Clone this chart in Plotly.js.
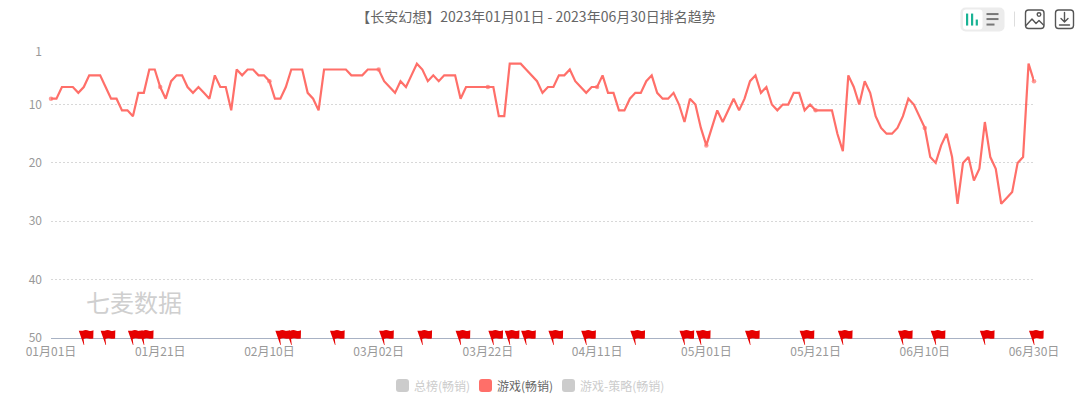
<!DOCTYPE html>
<html>
<head>
<meta charset="utf-8">
<script src="https://cdn.plot.ly/plotly-3.0.1.min.js"></script>
<style>html,body{margin:0;padding:0;background:#fff}#chart{width:1080px;height:406px}</style>
</head>
<body>
<div id="chart"></div>
<script>
const chartTitle = "【长安幻想】2023年01月01日 - 2023年06月30日排名趋势";
const seriesNames = ["总榜(畅销)", "游戏(畅销)", "游戏-策略(畅销)"];
const yTicks = [1, 10, 20, 30, 40, 50];
const tickDayIndex = [0, 20, 40, 60, 80, 100, 120, 140, 160, 180];
const tickLabels = ["01月01日", "01月21日", "02月10日", "03月02日", "03月22日", "04月11日", "05月01日", "05月21日", "06月10日", "06月30日"];
const flagDayIndex = [6, 10, 15, 17, 42, 44, 52, 61, 68, 75, 81, 84, 87, 92, 98, 107, 116, 119, 128, 138, 145, 156, 162, 171, 180];
const gameRank = [
  9, 9, 7, 7, 7, 8, 7, 5, 5, 5,
  7, 9, 9, 11, 11, 12, 8, 8, 4, 4,
  7, 9, 6, 5, 5, 7, 8, 7, 8, 9,
  5, 7, 7, 11, 4, 5, 4, 4, 5, 5,
  6, 9, 9, 7, 4, 4, 4, 8, 9, 11,
  4, 4, 4, 4, 4, 5, 5, 5, 4, 4,
  4, 6, 7, 8, 6, 7, 5, 3, 4, 6,
  5, 6, 5, 5, 5, 9, 7, 7, 7, 7,
  7, 7, 12, 12, 3, 3, 3, 4, 5, 6,
  8, 7, 7, 5, 5, 4, 6, 7, 8, 7,
  7, 5, 8, 8, 11, 11, 9, 8, 8, 6,
  5, 8, 9, 9, 8, 10, 13, 9, 10, 14,
  17, 14, 11, 13, 11, 9, 11, 9, 6, 5,
  8, 7, 10, 11, 10, 10, 8, 8, 11, 10,
  11, 11, 11, 11, 15, 18, 5, 7, 10, 6,
  8, 12, 14, 15, 15, 14, 12, 9, 10, 12,
  14, 19, 20, 17, 15, 19, 27, 20, 19, 23,
  21, 13, 19, 21, 27, 26, 25, 20, 19, 3,
  6
];

const W = 1080, H = 406, L = 51, R = 46, T = 51.5, B = 68;
const plotW = W - L - R, plotH = H - T - B;
const fx = v => (v - L) / plotW;
const fy = v => 1 - (v - T) / plotH;
const START = Date.UTC(2023, 0, 1);
const dateOf = i => new Date(START + i * 86400000).toISOString().slice(0, 10);
const days = gameRank.map((_, i) => dateOf(i));

const RED = "#ff6f69", GREY = "#cccccc";

const flagPath = "M0,0 L-5,14.3 L-1,14.3 Q2,15.5 5,14.3 Q7.5,13.6 9.7,14.8 L9.5,6.5 Q7,5.8 4.5,6.5 Q2,7.2 -0.2,6 L0.5,0 Z";
const flagShapes = flagDayIndex.map(i => ({
  type: "path", xref: "paper", yref: "paper",
  xsizemode: "pixel", ysizemode: "pixel",
  xanchor: i / 180, yanchor: fy(345),
  path: flagPath, fillcolor: "#e60000", line: {width: 0}, layer: "above"
}));

const swatch = "M3,0 H10 Q13,0 13,3 V10 Q13,13 10,13 H3 Q0,13 0,10 V3 Q0,0 3,0 Z";
const legendItems = [
  {sx: 396, tx: 414, color: GREY, tc: "#cccccc", name: seriesNames[0]},
  {sx: 479, tx: 497, color: RED, tc: "#666666", name: seriesNames[1]},
  {sx: 562, tx: 580, color: GREY, tc: "#cccccc", name: seriesNames[2]}
];
const legendShapes = legendItems.map(o => ({
  type: "path", xref: "paper", yref: "paper",
  xsizemode: "pixel", ysizemode: "pixel",
  xanchor: fx(o.sx), yanchor: fy(392),
  path: swatch, fillcolor: o.color, line: {width: 0}
}));
const FONT = '"Noto Sans CJK SC", "Noto Sans", sans-serif';
const legendText = legendItems.map(o => ({
  xref: "paper", yref: "paper", x: fx(o.tx), y: fy(385.5),
  xanchor: "left", yanchor: "middle", showarrow: false,
  text: o.name, font: {family: FONT, size: 12, color: o.tc}, borderpad: 0, xshift: -1
}));

const toolbarSvg = `<svg xmlns="http://www.w3.org/2000/svg" width="125" height="36" viewBox="955 0 125 36">
<rect x="960.5" y="7" width="44" height="24" rx="5" fill="#ececec"/>
<rect x="963" y="9" width="19.5" height="20" rx="3" fill="#ffffff"/>
<g fill="#19b394"><rect x="966" y="13" width="2.2" height="12"/><rect x="971" y="13" width="2.2" height="12"/><rect x="975.7" y="19" width="2.2" height="6"/></g>
<g fill="#777777"><rect x="986.5" y="12.5" width="12" height="2"/><rect x="986.5" y="17.5" width="12" height="2"/><rect x="986.5" y="23" width="8" height="2"/></g>
<rect x="1014" y="11" width="1" height="15" fill="#dddddd"/>
<g fill="none" stroke="#555555" stroke-width="1.4" stroke-linejoin="round" stroke-linecap="round">
<rect x="1025.5" y="9.5" width="18.5" height="18.5" rx="3"/>
<path d="M1026,25 L1032,18.5 L1036,23 L1039,20 L1043.5,24.5"/>
<circle cx="1039" cy="14" r="1.8"/>
<rect x="1055.5" y="9.5" width="18" height="18.5" rx="3"/>
<path d="M1064.5,12 V21 M1061,18 L1064.5,21.5 L1068,18 M1059.5,24.5 H1069.5"/>
</g></svg>`;

const traces = [
  {
    type: "scatter", mode: "lines+markers", name: seriesNames[1],
    x: days, y: gameRank, cliponaxis: false,
    line: {color: RED, width: 2.2},
    marker: {color: RED, size: gameRank.map((_, i) => tickDayIndex.includes(i) ? 4.5 : 0.01), line: {width: 0}},
    showlegend: false, hovertemplate: "%{x}<br>%{y}<extra>" + seriesNames[1] + "</extra>"
  }
];

const layout = {
  width: W, height: H, autosize: false,
  margin: {l: L, r: R, t: T, b: B, pad: 0},
  paper_bgcolor: "#ffffff", plot_bgcolor: "#ffffff",
  font: {family: FONT, size: 12, color: "#999999"},
  showlegend: false,
  title: {
    text: chartTitle, xref: "paper", yref: "container", x: fx(536), xanchor: "center",
    y: 1 - 17 / H, yanchor: "middle",
    font: {family: FONT, size: 14, color: "#666666"}
  },
  xaxis: {
    type: "date", range: [dateOf(0), dateOf(180)],
    tickmode: "array", tickvals: tickDayIndex.map(dateOf), ticktext: tickLabels,
    tickangle: 0, ticks: "", showgrid: false, zeroline: false,
    showline: true, linecolor: "#a8b2c4", linewidth: 1, ticklabelstandoff: 3,
    tickfont: {family: FONT, size: 12, color: "#999999"}
  },
  yaxis: {
    range: [50, 1], tickmode: "array", tickvals: yTicks,
    ticks: "", showline: false, zeroline: false, showgrid: true,
    gridcolor: "#d8d8d8", griddash: "2px,2px", gridwidth: 1,
    tickfont: {family: FONT, size: 12, color: "#999999"}, ticklabelstandoff: 8
  },
  shapes: flagShapes.concat(legendShapes),
  annotations: legendText.concat([{
    xref: "paper", yref: "paper", x: fx(84), y: fy(301),
    xanchor: "left", yanchor: "middle", showarrow: false,
    text: "七麦数据", font: {family: FONT, size: 24, color: "#cfcfcf"}
  }]),
  images: [{
    source: "data:image/svg+xml;charset=utf-8," + encodeURIComponent(toolbarSvg),
    xref: "paper", yref: "paper", x: fx(955), y: fy(0),
    sizex: 125 / plotW, sizey: 36 / plotH, xanchor: "left", yanchor: "top",
    sizing: "stretch", layer: "above"
  }]
};

Plotly.newPlot("chart", traces, layout, {displayModeBar: false, responsive: false});
</script>
</body>
</html>
